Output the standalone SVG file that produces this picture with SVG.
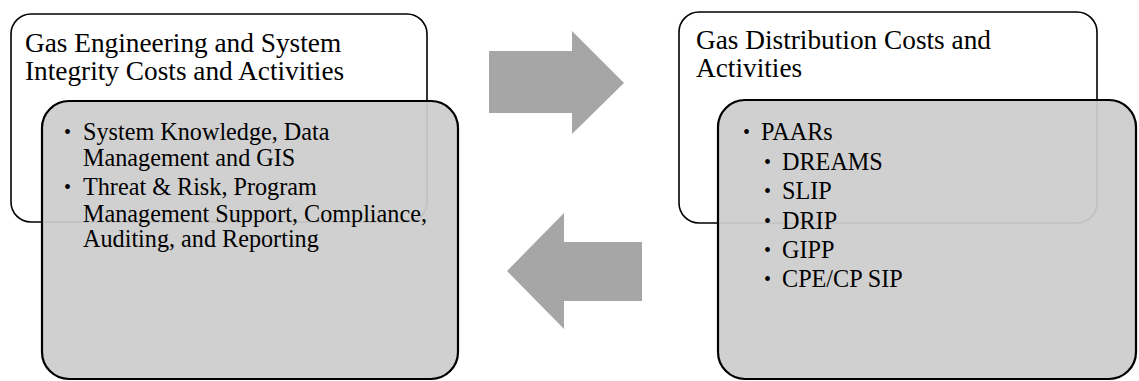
<svg xmlns="http://www.w3.org/2000/svg" width="1139" height="381" viewBox="0 0 1139 381">
<style>
.outer{fill:#ffffff;stroke:#000000;stroke-width:1.6}
.inner{fill:#cdcdcd;fill-opacity:0.94;stroke:#000000;stroke-width:2.2}
.arrow{fill:#a6a6a6;stroke:none}
.title{font-family:"Liberation Serif","Times New Roman",serif;font-size:27.3px;fill:#000}
.item{font-family:"Liberation Serif","Times New Roman",serif;font-size:24.2px;fill:#000}
.bul{font-family:"Liberation Serif","Times New Roman",serif;font-size:20px;fill:#000}
</style>
<rect width="1139" height="381" fill="#ffffff"/>
<g id="left-node">
<rect class="outer" x="11" y="14" width="416" height="208" rx="20" ry="20"/>
<text class="title" x="25" y="52">Gas Engineering and System</text>
<text class="title" x="25" y="80">Integrity Costs and Activities</text>
<rect class="inner" x="42" y="101" width="416" height="278" rx="27" ry="27"/>
<text class="bul"><tspan x="64" y="139">•</tspan><tspan x="64" y="194">•</tspan></text>
<text class="item"><tspan x="83" y="140">System Knowledge, Data</tspan><tspan x="83" y="166">Management and GIS</tspan><tspan x="83" y="195">Threat &amp; Risk, Program</tspan><tspan x="83" y="222">Management Support, Compliance,</tspan><tspan x="83" y="247">Auditing, and Reporting</tspan></text>
</g>
<g id="right-node">
<rect class="outer" x="679" y="12" width="418" height="211" rx="20" ry="20"/>
<text class="title" x="696" y="49">Gas Distribution Costs and</text>
<text class="title" x="696" y="77">Activities</text>
<rect class="inner" x="718" y="100" width="418" height="279" rx="27" ry="27"/>
<text class="bul"><tspan x="743" y="139">•</tspan><tspan x="764" y="169">•</tspan><tspan x="764" y="198">•</tspan><tspan x="764" y="228">•</tspan><tspan x="764" y="257">•</tspan><tspan x="764" y="286">•</tspan></text>
<text class="item"><tspan x="761" y="140">PAARs</tspan><tspan x="782" y="170">DREAMS</tspan><tspan x="782" y="199">SLIP</tspan><tspan x="782" y="229">DRIP</tspan><tspan x="782" y="258">GIPP</tspan><tspan x="782" y="287">CPE/CP SIP</tspan></text>
</g>
<g id="connectors">
<polygon class="arrow" points="489,51 572,51 572,31 624,83 572,134 572,113 489,113"/>
<polygon class="arrow" points="642,242 564,242 564,213 507,271 564,329 564,301 642,301"/>
</g>
</svg>
